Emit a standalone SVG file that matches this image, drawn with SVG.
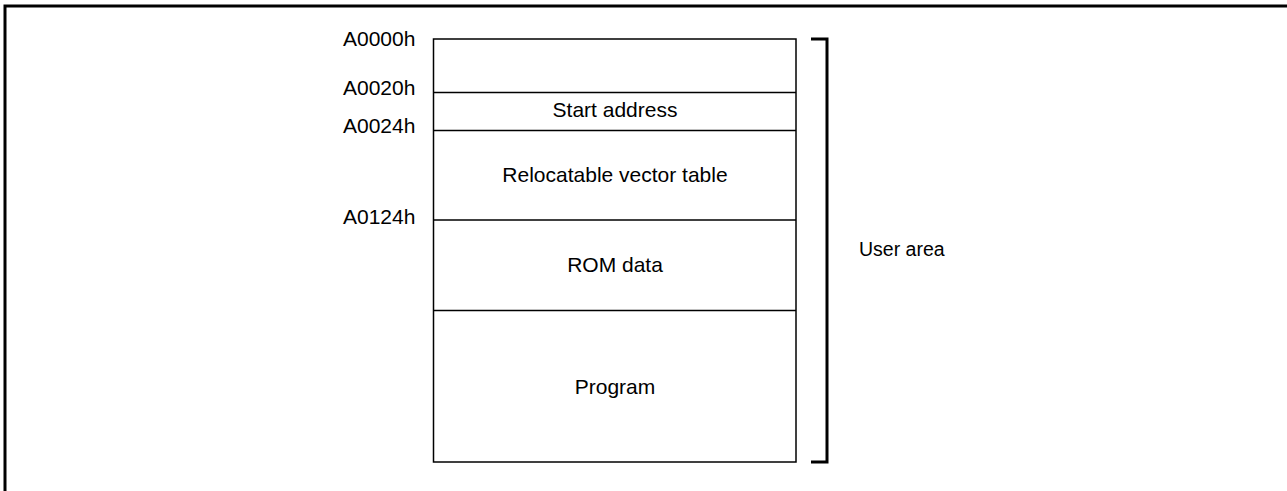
<svg xmlns="http://www.w3.org/2000/svg" width="1287" height="491" viewBox="0 0 1287 491">
<style>
text{font-family:"Liberation Sans",Arial,sans-serif;font-size:21px;fill:#000}
.c{text-anchor:middle}
.ln{stroke:#000;stroke-width:1.5;fill:none}
.br{stroke:#000;stroke-width:3;fill:none}
.fr{stroke:#000;stroke-width:3;fill:none}
</style>
<rect width="1287" height="491" fill="#fff"/>
<g id="frame"><path class="fr" d="M5,491 V6 H1287"/></g>
<g id="addresses">
<text x="343" y="46">A0000h</text>
<text x="343" y="95">A0020h</text>
<text x="343" y="133">A0024h</text>
<text x="343" y="224">A0124h</text>
</g>
<g id="memory-map">
<rect class="ln" x="433.5" y="39" width="362.5" height="423"/>
</g>
<g id="start-address"><line class="ln" x1="433.5" y1="92.5" x2="796" y2="92.5"/><text class="c" x="615" y="117">Start address</text></g>
<g id="vector-table"><line class="ln" x1="433.5" y1="130.5" x2="796" y2="130.5"/><text class="c" x="615" y="182">Relocatable vector table</text></g>
<g id="rom-data"><line class="ln" x1="433.5" y1="220" x2="796" y2="220"/><text class="c" x="615" y="272">ROM data</text></g>
<g id="program"><line class="ln" x1="433.5" y1="310.5" x2="796" y2="310.5"/><text class="c" x="615" y="394">Program</text></g>
<g id="connectors"><path class="br" d="M811,39 H827 V462 H811"/></g>
<g id="user-area"><text x="859" y="256" style="font-size:19.5px">User area</text></g>
</svg>
